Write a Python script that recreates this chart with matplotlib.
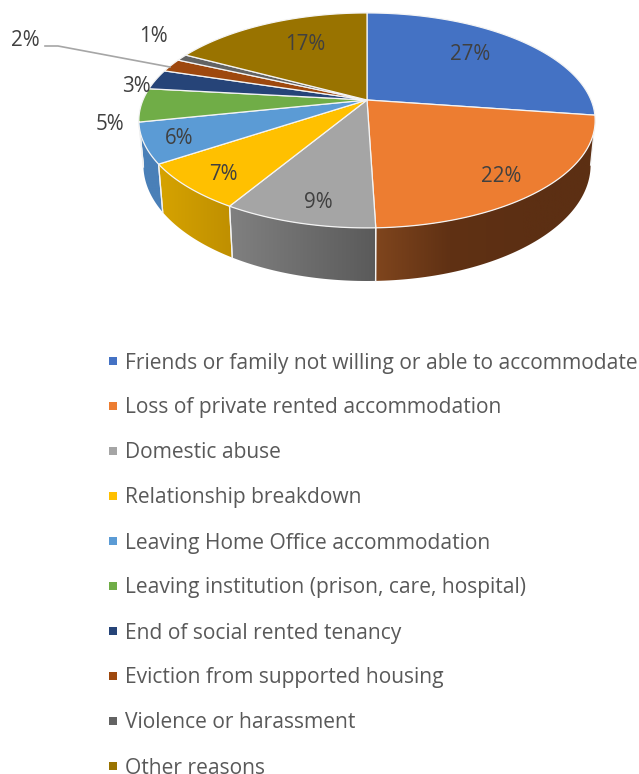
import numpy as np
import matplotlib
matplotlib.use("Agg")
import matplotlib.pyplot as plt
from matplotlib.colors import LinearSegmentedColormap
from matplotlib.patches import Polygon

categories = ["Friends or family not willing or able to accommodate",
              "Loss of private rented accommodation",
              "Domestic abuse",
              "Relationship breakdown",
              "Leaving Home Office accommodation",
              "Leaving institution (prison, care, hospital)",
              "End of social rented tenancy",
              "Eviction from supported housing",
              "Violence or harassment",
              "Other reasons"]
values = [27, 22, 9, 7, 6, 5, 3, 2, 1, 17]
top_colors = ["#4472c4", "#ed7d31", "#a5a5a5", "#ffc000", "#5b9bd5",
              "#70ad47", "#264478", "#9e480e", "#636363", "#997300"]
wall_colors = [["#2f5597", "#2f5597"],
               ["#7f451d", "#603114", "#5c2f13", "#5c2f13"],
               ["#808080", "#5a5a5a"],
               ["#d6a300", "#bf8f00"],
               ["#4a80b8", "#4a80b8"],
               ["#5a8a3a", "#5a8a3a"],
               ["#1c3359", "#1c3359"],
               ["#76360a", "#76360a"],
               ["#4a4a4a", "#4a4a4a"],
               ["#735600", "#735600"]]
label_xy = [(470, 54), (501, 176), (318, 202), (223, 174), (179, 138),
            (110, 124), (136, 87), (25, 40), (153, 37), (305, 45)]

# pie geometry in pixels, the tilt gives the perspective look
cx, cy = 367, 100
kx, ky = 224, 103.6
persp = 0.19
depth = 43


def project(t, r=1.0):
    u = np.sin(t) * r
    v = np.cos(t) * r
    w = 1 + persp * v
    return cx + kx * u / w, cy - ky * v / w, w


fig = plt.figure(figsize=(6.39, 7.74), dpi=100)
ax = fig.add_axes([0, 0, 1, 1])
ax.set_xlim(0, 639)
ax.set_ylim(774, 0)
ax.axis("off")

edges = np.cumsum([0] + values) / sum(values) * 2 * np.pi
t_lo = np.arccos(-persp)
t_hi = 2 * np.pi - t_lo

# side walls first, the top covers whatever is left over
for i in range(len(values)):
    a = max(edges[i], t_lo)
    b = min(edges[i + 1], t_hi)
    if b <= a:
        continue
    t = np.linspace(a, b, 80)
    x1, y1, w1 = project(t)
    x2 = cx + (x1 - cx) * 0.98
    y2 = y1 + depth / w1
    xs = np.r_[x1, x2[::-1]]
    ys = np.r_[y1, y2[::-1]]
    poly = Polygon(np.c_[xs, ys], closed=True, fc="none", ec="none")
    ax.add_patch(poly)
    cmap = LinearSegmentedColormap.from_list("w%d" % i, wall_colors[i])
    grad = np.linspace(0, 1, 256).reshape(1, -1)
    im = ax.imshow(grad, cmap=cmap, aspect="auto", zorder=1,
                   extent=[xs.min(), xs.max(), ys.max(), ys.min()])
    im.set_clip_path(poly)
    ax.plot([x1[0], x2[0]], [y1[0], y2[0]], color="#f2f2f2", lw=0.9, zorder=2)
    ax.plot([x1[-1], x2[-1]], [y1[-1], y2[-1]], color="#f2f2f2", lw=0.9, zorder=2)

ax.set_xlim(0, 639)
ax.set_ylim(774, 0)

# top slices
for i in range(len(values)):
    t = np.linspace(edges[i], edges[i + 1], 80)
    x, y, _ = project(t)
    ax.fill(np.r_[cx, x], np.r_[cy, y], color=top_colors[i], ec="#f4f4f4",
            lw=0.9, zorder=3, joinstyle="round")

ax.plot([45, 58, 170], [46, 46, 67], color="#a6a6a6", lw=1.2, zorder=4)

for i in range(len(values)):
    ax.text(label_xy[i][0], label_xy[i][1], "%d%%" % values[i], color="#404040",
            fontsize=14.8, family="Open Sans", ha="center", va="center", zorder=5)

# legend
legend_y = 361
for i in range(len(categories)):
    ax.scatter(113, legend_y, marker="s", s=30, color=top_colors[i], lw=0, zorder=5)
    ax.text(125, legend_y + 7.5, categories[i], color="#595959", fontsize=15.1,
            family="Open Sans", ha="left", va="baseline", zorder=5)
    legend_y += 45

fig.savefig("out.png", dpi=100)
